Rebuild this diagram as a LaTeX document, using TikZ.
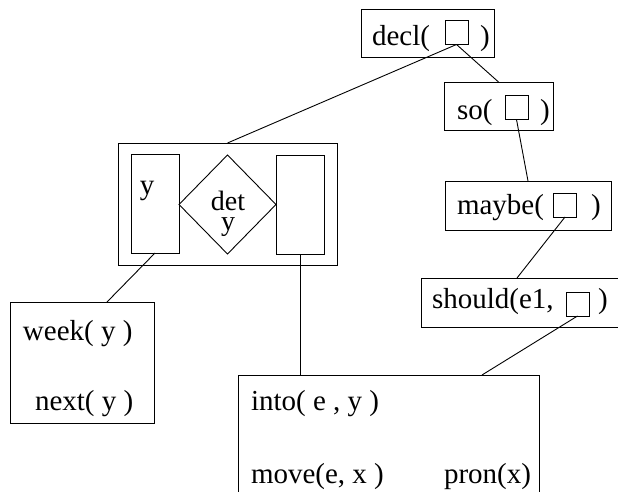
\documentclass[tikz,border=0pt]{standalone}
\usepackage{fontspec}
\setmainfont{Liberation Serif}
\usetikzlibrary{shapes.geometric}
\begin{document}
\begin{tikzpicture}[x=1pt,y=-1pt,
  box/.style={draw,line width=0.9pt,rectangle,inner sep=0pt,outer sep=0pt},
  sq/.style={draw,line width=0.9pt,rectangle,inner sep=0pt,outer sep=0pt,minimum width=23pt,minimum height=24pt},
  txt/.style={inner sep=0pt,outer sep=0pt,font=\fontsize{29}{34}\selectfont},
  conn/.style={line width=0.9pt}]
\useasboundingbox (0,0) rectangle (618,492);
\fill[white] (0,0) rectangle (618,492);
\clip (0,0) rectangle (618,492);
% decl
\node[box,minimum width=133pt,minimum height=48pt] (decl) at (427.5,33) {};
\node[sq] (dsq) at (456.5,32.5) {};
\node[txt,anchor=base west] (tdecl) at (372,46) {decl(};
\node[txt,anchor=base west] (tdeclr) at (480,46) {)};
% so
\node[box,minimum width=109pt,minimum height=48pt] (so) at (498.5,106) {};
\node[sq] (ssq) at (516.5,107.5) {};
\node[txt,anchor=base west] (tso) at (457,120) {so(};
\node[txt,anchor=base west] (tsor) at (540,120) {)};
% maybe
\node[box,minimum width=166pt,minimum height=49pt] (maybe) at (528,205.5) {};
\node[sq] (msq) at (565,205) {};
\node[txt,anchor=base west] (tmaybe) at (457,214) {maybe(};
\node[txt,anchor=base west] (tmayber) at (591,214) {)};
% should
\node[box,minimum width=219pt,minimum height=49pt] (should) at (530.5,302.5) {};
\node[sq] (shsq) at (577.5,304) {};
\node[txt,anchor=base west] (tshould) at (432,308) {should(e1,};
\node[txt,anchor=base west] (tshouldr) at (598,308) {)};
% big box
\node[box,minimum width=219pt,minimum height=122pt] (big) at (227.5,204) {};
\node[box,minimum width=48pt,minimum height=99pt] (lr) at (155,203.5) {};
\node[box,minimum width=48pt,minimum height=99pt] (rr) at (300,204.5) {};
\node[draw,line width=0.9pt,diamond,inner sep=0pt,outer sep=0pt,minimum width=97pt,minimum height=99pt] (dia) at (227.5,204.5) {};
\node[txt,anchor=base] (ty) at (147,194) {y};
\node[txt,anchor=north,align=center,font=\fontsize{28}{20}\selectfont] (tdet) at (228,191) {det\\y};
% week box
\node[box,minimum width=144pt,minimum height=121pt] (week) at (82,362.5) {};
\node[txt,anchor=base west] (tweek) at (23,340) {week( y )};
\node[txt,anchor=base west] (tnext) at (35,410) {next( y )};
% bottom box
\draw[line width=0.9pt] (238,520) -- (238,375) coordinate (botnw) -- (539,375) -- (539,520);
\node[txt,anchor=base west] (tinto) at (251,410) {into( e , y )};
\node[txt,anchor=base west] (tmove) at (251,483) {move(e, x )};
\node[txt,anchor=base east] (tpron) at (531,483) {pron(x)};
\coordinate (botn) at (300,375);
\coordinate (botsh) at (482,375);
\coordinate (shtop) at (517,278);
\coordinate (weektop) at (107,302);
% connectors
\draw[conn] (dsq.south) -- (so.north);
\draw[conn] (dsq.south) -- (big.north);
\draw[conn] (ssq.south) -- (maybe.north);
\draw[conn] (msq.south) -- (shtop);
\draw[conn] (shsq.south) -- (botsh);
\draw[conn] (lr.south) -- (weektop);
\draw[conn] (rr.south) -- (botn);
\end{tikzpicture}
\end{document}
